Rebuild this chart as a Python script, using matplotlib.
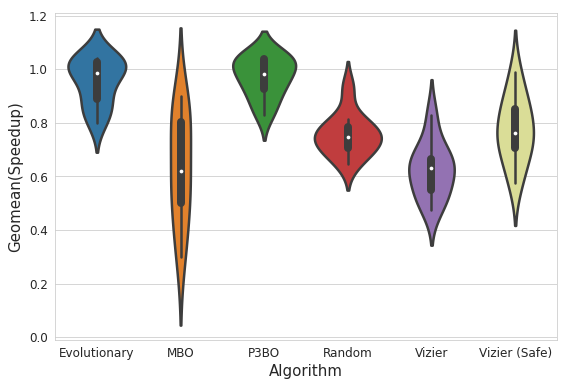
import numpy as np
import pandas as pd
import seaborn as sns
from matplotlib import pyplot as plt

# geomean speedup per run
evolutionary = [0.80, 0.85, 0.875, 0.93, 0.98, 0.995, 1.02, 1.03, 1.035, 1.04]
mbo = [0.30, 0.40, 0.48, 0.56, 0.60, 0.64, 0.79, 0.81, 0.84, 0.90]
p3bo = [0.83, 0.88, 0.92, 0.95, 0.975, 0.99, 1.03, 1.04, 1.043, 1.047]
random_search = [0.648, 0.69, 0.70, 0.73, 0.74, 0.755, 0.77, 0.79, 0.815, 0.93]
vizier = [0.475, 0.52, 0.54, 0.58, 0.62, 0.645, 0.655, 0.67, 0.72, 0.83]
vizier_safe = [0.574, 0.64, 0.70, 0.73, 0.75, 0.775, 0.83, 0.86, 0.90, 0.989]

algorithms = ['Evolutionary', 'MBO', 'P3BO', 'Random', 'Vizier', 'Vizier (Safe)']
colors = ['#3274a1', '#e1812c', '#3a923a', '#c03d3e', '#9372b2', '#dadd97']

series = [evolutionary, mbo, p3bo, random_search, vizier, vizier_safe]
rows = []
for name, vals in zip(algorithms, series):
    for v in vals:
        rows.append({'Algorithm': name, 'Geomean(Speedup)': v})
df = pd.DataFrame(rows)

sns.set_style('whitegrid')
fig = plt.figure(figsize=(570 / 72, 388 / 72), dpi=72)
ax = fig.add_axes([55 / 570, 1 - 340 / 388, 502 / 570, 327 / 388])
# common_norm so all violins share one area scale (MBO comes out thin)
sns.violinplot(data=df, x='Algorithm', y='Geomean(Speedup)', hue='Algorithm',
               order=algorithms, hue_order=algorithms, palette=colors,
               saturation=1, linewidth=2.5, legend=False,
               density_norm='area', common_norm=True,
               inner_kws=dict(box_width=8, whis_width=2.5, marker='None'),
               ax=ax)

# old-style white median dots
for i, vals in enumerate(series):
    ax.scatter(i, np.median(vals), s=14, color='white', zorder=5, linewidths=0)

ax.set_xlim(-0.5, len(algorithms) - 0.5)
ax.set_xlabel('Algorithm', fontsize=15)
ax.set_ylabel('Geomean(Speedup)', fontsize=15, labelpad=6)
ax.tick_params(labelsize=12)
ax.set_yticks([0.0, 0.2, 0.4, 0.6, 0.8, 1.0, 1.2])
ax.set_yticklabels(['0.0', '0.2', '0.4', '0.6', '0.8', '1.0', '1.2'])

plt.savefig('out.png', dpi=72)
